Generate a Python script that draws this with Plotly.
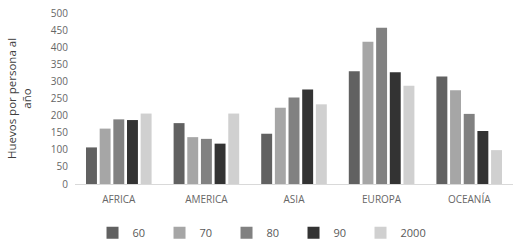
import plotly.graph_objects as go

categories = ["AFRICA", "AMERICA", "ASIA", "EUROPA", "OCEANÍA"]
series_names = ["60", "70", "80", "90", "2000"]
v60 = [107, 178, 147, 330, 314]
v70 = [162, 137, 223, 416, 274]
v80 = [189, 132, 253, 457, 205]
v90 = [187, 118, 276, 327, 155]
v2000 = [206, 206, 233, 287, 99]
colors = ["#616161", "#a6a6a6", "#818181", "#333333", "#d0d0d0"]

values = [v60, v70, v80, v90, v2000]

fig = go.Figure()
for name, vals, c in zip(series_names, values, colors):
    fig.add_trace(go.Bar(x=categories, y=vals, name=name, marker=dict(color=c, line=dict(width=0))))

fig.update_layout(
    width=522, height=243,
    margin=dict(l=75, r=9, t=13, b=59, autoexpand=False),
    paper_bgcolor="white", plot_bgcolor="white",
    barmode="group", bargap=0.22, bargroupgap=0.2,
    font=dict(family="Open Sans", size=10, color="#666666"),
    showlegend=True,
    legend=dict(orientation="h", x=0.04, xanchor="left", y=-0.2, yanchor="top",
                entrywidth=22, entrywidthmode="pixels",
                font=dict(size=11, color="#595959"), itemwidth=30,
                traceorder="normal"),
    yaxis=dict(range=[0, 500], dtick=50, showgrid=False, zeroline=False,
               showline=False, ticks="", tickfont=dict(size=10, color="#666666"),
               ticklabelstandoff=6,
               title=dict(text="Huevos por persona al<br>año", font=dict(size=11.5, color="#404040"), standoff=16)),
    xaxis=dict(showline=True, linecolor="#d9d9d9", linewidth=1, ticks="",
               ticklabelstandoff=6,
               tickfont=dict(size=10, color="#666666")),
)

fig.write_html("out.html", config={"displayModeBar": False},
               post_script="document.body.style.margin='0';")
